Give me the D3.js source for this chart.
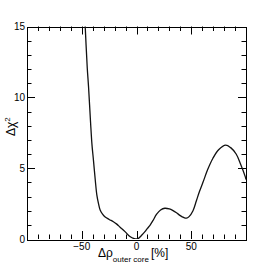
<!DOCTYPE html>
<html>
<head>
<meta charset="utf-8">
<script src="https://cdn.jsdelivr.net/npm/d3@7"></script>
<style>
  body { margin: 0; background: #fff; }
  text { font-family: "Liberation Sans", Arial, sans-serif; fill: #000; }
</style>
</head>
<body>
<div id="chart"></div>
<script>
var width = 273;
var height = 266;

// delta rho (outer core) in %, and delta chi^2
var rhoValues = [-47.2, -45, -43.8, -42, -40.7, -39.3, -37.7, -36.2, -34.7, -33.2, -31, -28.6, -25,
    -21.1, -18, -15, -10.5, -6, -2, 0, 1.6, 4.5, 7.7, 10, 12.3, 15, 18.4, 22, 25.9, 30, 33, 36.5,
    40, 43, 45.6, 48, 51.6, 54.7, 57.5, 60.7, 65, 69.8, 75, 81.4, 86, 91, 95, 99.3, 100];
var chi2Values = [15.6, 12.1, 10.75, 8.3, 6.7, 5.55, 4.2, 3.1, 2.5, 2.05, 1.75, 1.55, 1.38,
    1.22, 1.05, 0.83, 0.52, 0.17, 0.02, 0, 0.03, 0.25, 0.52, 0.75, 0.97, 1.3, 1.75, 2.05, 2.17, 2.12, 2.02, 1.85,
    1.65, 1.52, 1.47, 1.58, 2.0, 2.7, 3.35, 4.0, 4.9, 5.7, 6.3, 6.63, 6.45, 6.0, 5.3, 4.4, 4.2];

var xTicks = [-50, 0, 50];
var yTicks = [0, 5, 10, 15];

var margin = {left: 27, right: 27, top: 26.5, bottom: 27};
var plotW = width - margin.left - margin.right;
var plotH = height - margin.top - margin.bottom;

var svg = d3.select('#chart')
    .append('svg')
    .attr('width', width)
    .attr('height', height);

var x = d3.scaleLinear().domain([-100, 100]).range([margin.left, margin.left + plotW]);
var y = d3.scaleLinear().domain([0, 15]).range([margin.top + plotH, margin.top]);

svg.append('clipPath').attr('id', 'clip')
    .append('rect')
    .attr('x', margin.left).attr('y', margin.top)
    .attr('width', plotW).attr('height', plotH);

// ticks, ROOT style: inside on all four sides
var minorX = d3.range(-90, 100, 10);
var minorY = d3.range(1, 15, 1);
var ticks = svg.append('g').attr('stroke', '#000').attr('stroke-width', 1);

function tickLen(isMajor) { return isMajor ? 8 : 4.5; }

minorX.forEach(function(v) {
    var major = xTicks.indexOf(v) >= 0;
    var px = Math.round(x(v)) + 0.5;
    ticks.append('line').attr('x1', px).attr('x2', px)
        .attr('y1', y(0)).attr('y2', y(0) - tickLen(major));
    ticks.append('line').attr('x1', px).attr('x2', px)
        .attr('y1', y(15)).attr('y2', y(15) + tickLen(major));
});
minorY.forEach(function(v) {
    var major = yTicks.indexOf(v) >= 0;
    var py = Math.round(y(v)) + 0.5;
    ticks.append('line').attr('y1', py).attr('y2', py)
        .attr('x1', x(-100)).attr('x2', x(-100) + tickLen(major));
    ticks.append('line').attr('y1', py).attr('y2', py)
        .attr('x1', x(100)).attr('x2', x(100) - tickLen(major));
});

// frame
svg.append('rect')
    .attr('x', Math.round(margin.left) + 0.5).attr('y', Math.round(margin.top) + 0.5)
    .attr('width', Math.round(plotW)).attr('height', Math.round(plotH))
    .attr('fill', 'none').attr('stroke', '#000').attr('stroke-width', 1);

// tick labels
svg.append('g').selectAll('text')
    .data(xTicks)
    .enter()
    .append('text')
    .attr('x', (d) => x(d))
    .attr('y', y(0) + 10.5)
    .attr('text-anchor', 'middle')
    .style('font-size', '10px')
    .text((d) => d < 0 ? '\u2212' + Math.abs(d) : d);

svg.append('g').selectAll('text')
    .data(yTicks)
    .enter()
    .append('text')
    .attr('x', x(-100) - 2)
    .attr('y', (d) => y(d) + 3.6)
    .attr('text-anchor', 'end')
    .style('font-size', '10px')
    .text((d) => d);

// axis titles
var xt = svg.append('text')
    .attr('x', 98)
    .attr('y', 257)
    .style('font-size', '12px');
xt.append('tspan').text('\u0394\u03c1');
xt.append('tspan').attr('dy', 5).style('font-size', '8px').text('outer core');
xt.append('tspan').attr('dy', -5).attr('dx', 2).text('[%]');

var yt = svg.append('text')
    .attr('transform', 'translate(15,136) rotate(-90)')
    .style('font-size', '12px');
yt.append('tspan').text('\u0394\u03c7');
yt.append('tspan').attr('dy', -5).style('font-size', '8px').text('2');

// curve
var line = d3.line()
    .x((d, i) => x(rhoValues[i]))
    .y((d, i) => y(chi2Values[i]))
    .curve(d3.curveCatmullRom.alpha(0.5));

svg.append('path')
    .datum(rhoValues)
    .attr('clip-path', 'url(#clip)')
    .attr('fill', 'none')
    .attr('stroke', '#111')
    .attr('stroke-width', 1.3)
    .attr('d', line);
</script>
</body>
</html>
